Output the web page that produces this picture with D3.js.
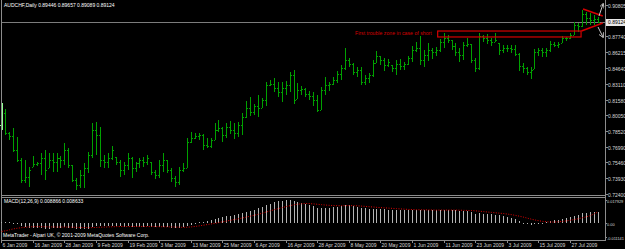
<!DOCTYPE html>
<html>
<head>
<meta charset="utf-8">
<script src="https://cdnjs.cloudflare.com/ajax/libs/d3/7.8.5/d3.min.js"></script>
<style>
  body { margin: 0; background: #000; }
  svg { display: block; }
  text { font-family: "Liberation Sans", Arial, sans-serif; }
</style>
</head>
<body>
<svg width="625" height="249"></svg>
<script>
// AUDCHF daily bars, 6 Jan 2009 .. 5 Aug 2009
var opens = [
  0.7911,0.8028,0.7834,0.7804,0.7668,0.7571,0.7376,0.7405,0.7503,0.7532,
  0.7541,0.7590,0.7493,0.7571,0.7551,0.7590,0.7571,0.7668,0.7522,0.7376,
  0.7327,0.7425,0.7493,0.7619,0.7863,0.7814,0.7571,0.7551,0.7590,0.7600,
  0.7551,0.7473,0.7522,0.7590,0.7493,0.7541,0.7571,0.7551,0.7551,0.7454,
  0.7425,0.7522,0.7571,0.7473,0.7395,0.7356,0.7473,0.7493,0.7746,0.7785,
  0.7804,0.7814,0.7717,0.7707,0.7765,0.7863,0.7882,0.7814,0.7892,0.7863,
  0.7834,0.7911,0.7989,0.8077,0.8038,0.8096,0.8077,0.8155,0.8301,0.8311,
  0.8272,0.8233,0.8272,0.8301,0.8399,0.8165,0.8252,0.8262,0.8213,0.8194,
  0.8155,0.8058,0.8252,0.8301,0.8311,0.8350,0.8408,0.8467,0.8545,0.8506,
  0.8428,0.8447,0.8330,0.8369,0.8399,0.8515,0.8584,0.8545,0.8496,0.8496,
  0.8467,0.8506,0.8486,0.8506,0.8564,0.8642,0.8662,0.8545,0.8593,0.8642,
  0.8623,0.8642,0.8720,0.8759,0.8740,0.8681,0.8623,0.8593,0.8691,0.8701,
  0.8545,0.8467,0.8778,0.8759,0.8740,0.8720,0.8710,0.8642,0.8662,0.8662,
  0.8652,0.8603,0.8486,0.8467,0.8428,0.8457,0.8623,0.8642,0.8623,0.8642,
  0.8701,0.8691,0.8710,0.8759,0.8759,0.8788,0.8886,0.8876,0.8993,0.8954,
  0.8934,0.89446
];
var highs = [
  0.8126,0.8067,0.7843,0.7882,0.7795,0.7590,0.7571,0.7503,0.7610,0.7551,
  0.7639,0.7668,0.7639,0.7639,0.7639,0.7610,0.7736,0.7688,0.7522,0.7395,
  0.7473,0.7541,0.7649,0.7931,0.7941,0.7892,0.7619,0.7639,0.7707,0.7600,
  0.7571,0.7551,0.7639,0.7600,0.7551,0.7590,0.7600,0.7619,0.7551,0.7473,
  0.7571,0.7639,0.7571,0.7493,0.7415,0.7503,0.7541,0.7785,0.7843,0.7834,
  0.7834,0.7824,0.7785,0.7785,0.7931,0.7960,0.7892,0.7931,0.7950,0.7931,
  0.7941,0.8028,0.8145,0.8184,0.8116,0.8204,0.8174,0.8330,0.8350,0.8369,
  0.8330,0.8330,0.8340,0.8428,0.8447,0.8321,0.8291,0.8272,0.8243,0.8233,
  0.8204,0.8282,0.8379,0.8330,0.8379,0.8437,0.8496,0.8662,0.8564,0.8515,
  0.8476,0.8476,0.8399,0.8418,0.8545,0.8632,0.8584,0.8564,0.8554,0.8496,
  0.8545,0.8554,0.8525,0.8584,0.8681,0.8720,0.8778,0.8642,0.8710,0.8662,
  0.8671,0.8749,0.8808,0.8788,0.8740,0.8710,0.8662,0.8720,0.8759,0.8701,
  0.8564,0.8808,0.8788,0.8798,0.8759,0.8808,0.8710,0.8691,0.8691,0.8691,
  0.8691,0.8613,0.8515,0.8476,0.8476,0.8652,0.8662,0.8662,0.8662,0.8730,
  0.8720,0.8720,0.8778,0.8769,0.8808,0.8915,0.8905,0.9032,0.9012,0.9003,
  0.8983,0.89657
];
var lows = [
  0.7863,0.7814,0.7765,0.7649,0.7551,0.7347,0.7347,0.7308,0.7503,0.7512,
  0.7425,0.7376,0.7493,0.7454,0.7454,0.7493,0.7522,0.7493,0.7356,0.7278,
  0.7298,0.7298,0.7444,0.7590,0.7619,0.7503,0.7493,0.7493,0.7571,0.7522,
  0.7405,0.7425,0.7473,0.7395,0.7454,0.7493,0.7503,0.7522,0.7425,0.7386,
  0.7395,0.7454,0.7444,0.7356,0.7308,0.7327,0.7454,0.7493,0.7736,0.7775,
  0.7765,0.7668,0.7688,0.7688,0.7765,0.7843,0.7746,0.7785,0.7824,0.7775,
  0.7795,0.7814,0.7980,0.7999,0.8009,0.7989,0.8077,0.8096,0.8291,0.8233,
  0.8184,0.8135,0.8204,0.8233,0.8116,0.8165,0.8204,0.8184,0.8155,0.8096,
  0.8038,0.8058,0.8204,0.8243,0.8301,0.8321,0.8350,0.8447,0.8476,0.8399,
  0.8379,0.8301,0.8301,0.8321,0.8379,0.8515,0.8496,0.8437,0.8476,0.8428,
  0.8399,0.8447,0.8447,0.8496,0.8525,0.8623,0.8496,0.8476,0.8535,0.8554,
  0.8584,0.8623,0.8662,0.8710,0.8642,0.8584,0.8525,0.8545,0.8671,0.8515,
  0.8428,0.8447,0.8720,0.8701,0.8681,0.8720,0.8593,0.8613,0.8623,0.8613,
  0.8584,0.8437,0.8418,0.8399,0.8360,0.8457,0.8584,0.8574,0.8574,0.8623,
  0.8671,0.8662,0.8710,0.8730,0.8749,0.8788,0.8817,0.8866,0.8886,0.8886,
  0.8886,0.89089
];
var closes = [
  0.8028,0.7834,0.7804,0.7668,0.7571,0.7376,0.7405,0.7473,0.7532,0.7541,
  0.7590,0.7473,0.7571,0.7551,0.7590,0.7571,0.7668,0.7522,0.7376,0.7327,
  0.7425,0.7493,0.7619,0.7863,0.7814,0.7571,0.7551,0.7590,0.7668,0.7551,
  0.7473,0.7522,0.7590,0.7493,0.7541,0.7571,0.7551,0.7590,0.7454,0.7425,
  0.7522,0.7571,0.7473,0.7395,0.7356,0.7473,0.7493,0.7746,0.7785,0.7804,
  0.7814,0.7717,0.7707,0.7765,0.7863,0.7882,0.7814,0.7892,0.7863,0.7834,
  0.7911,0.7989,0.8077,0.8038,0.8096,0.8077,0.8155,0.8301,0.8311,0.8272,
  0.8233,0.8272,0.8301,0.8399,0.8155,0.8252,0.8262,0.8213,0.8194,0.8155,
  0.8058,0.8252,0.8301,0.8311,0.8350,0.8408,0.8467,0.8545,0.8506,0.8428,
  0.8447,0.8330,0.8369,0.8399,0.8515,0.8584,0.8545,0.8496,0.8525,0.8467,
  0.8506,0.8486,0.8506,0.8564,0.8642,0.8662,0.8545,0.8593,0.8642,0.8623,
  0.8642,0.8720,0.8759,0.8740,0.8681,0.8623,0.8593,0.8691,0.8701,0.8545,
  0.8467,0.8778,0.8759,0.8740,0.8720,0.8740,0.8642,0.8662,0.8662,0.8652,
  0.8603,0.8486,0.8467,0.8428,0.8447,0.8623,0.8642,0.8623,0.8642,0.8701,
  0.8691,0.8701,0.8759,0.8759,0.8788,0.8886,0.8876,0.8993,0.8954,0.8934,
  0.8944,0.89124
];

// MACD(12,26,9): main line (drawn as histogram) and signal line
var macdMain = [
  0.0012,0.0010,0.0006,0.0002,-0.0008,-0.0020,-0.0030,-0.0038,-0.0040,-0.0042,
  -0.0042,-0.0044,-0.0043,-0.0042,-0.0040,-0.0038,-0.0034,-0.0035,-0.0040,-0.0046,
  -0.0048,-0.0047,-0.0043,-0.0032,-0.0025,-0.0024,-0.0024,-0.0024,-0.0022,-0.0022,
  -0.0025,-0.0027,-0.0026,-0.0028,-0.0028,-0.0028,-0.0027,-0.0026,-0.0028,-0.0031,
  -0.0031,-0.0030,-0.0031,-0.0035,-0.0038,-0.0037,-0.0034,-0.0024,-0.0012,-0.0003,
  0.0005,0.0012,0.0018,0.0024,0.0032,0.0040,0.0046,0.0052,0.0058,0.0063,
  0.0068,0.0075,0.0085,0.0095,0.0105,0.0115,0.0125,0.0138,0.0150,0.0160,
  0.0168,0.0174,0.0178,0.0180,0.0172,0.0165,0.0158,0.0150,0.0140,0.0130,
  0.0118,0.0115,0.0117,0.0118,0.0122,0.0128,0.0134,0.0140,0.0138,0.0133,
  0.0128,0.0120,0.0114,0.0110,0.0110,0.0112,0.0110,0.0106,0.0104,0.0101,
  0.0100,0.0099,0.0098,0.0099,0.0102,0.0105,0.0102,0.0100,0.0101,0.0100,
  0.0099,0.0101,0.0104,0.0105,0.0102,0.0098,0.0094,0.0093,0.0092,0.0085,
  0.0072,0.0075,0.0073,0.0071,0.0068,0.0066,0.0060,0.0052,0.0045,0.0038,
  0.0030,0.0015,0.0003,-0.0007,-0.0014,-0.0008,-0.0002,0.0003,0.0008,0.0014,
  0.0020,0.0026,0.0033,0.0040,0.0047,0.0057,0.0064,0.0075,0.0082,0.0086,
  0.0088,0.008866
];
var macdSignal = [
  -0.0065,-0.0060,-0.0052,-0.0045,-0.0040,-0.0036,-0.0032,-0.0030,-0.0028,-0.0028,
  -0.0028,-0.0029,-0.0030,-0.0030,-0.0031,-0.0031,-0.0031,-0.0031,-0.0032,-0.0033,
  -0.0034,-0.0035,-0.0036,-0.0035,-0.0034,-0.0032,-0.0031,-0.0030,-0.0029,-0.0028,
  -0.0027,-0.0027,-0.0027,-0.0027,-0.0027,-0.0027,-0.0027,-0.0027,-0.0027,-0.0028,
  -0.0028,-0.0029,-0.0029,-0.0030,-0.0031,-0.0032,-0.0033,-0.0032,-0.0030,-0.0026,
  -0.0022,-0.0017,-0.0012,-0.0007,-0.0002,0.0004,0.0010,0.0016,0.0022,0.0028,
  0.0034,0.0040,0.0047,0.0054,0.0061,0.0069,0.0077,0.0086,0.0095,0.0104,
  0.0112,0.0120,0.0128,0.0135,0.0142,0.0147,0.0150,0.0152,0.0151,0.0149,
  0.0146,0.0143,0.0140,0.0138,0.0136,0.0135,0.0135,0.0135,0.0136,0.0135,
  0.0134,0.0132,0.0130,0.0127,0.0125,0.0122,0.0120,0.0118,0.0116,0.0114,
  0.0112,0.0110,0.0108,0.0106,0.0105,0.0104,0.0103,0.0103,0.0102,0.0102,
  0.0101,0.0101,0.0101,0.0101,0.0101,0.0101,0.0100,0.0099,0.0098,0.0097,
  0.0095,0.0092,0.0089,0.0086,0.0083,0.0080,0.0077,0.0074,0.0070,0.0066,
  0.0060,0.0054,0.0047,0.0039,0.0031,0.0024,0.0018,0.0013,0.0010,0.0008,
  0.0008,0.0010,0.0013,0.0017,0.0022,0.0028,0.0034,0.0041,0.0049,0.0057,
  0.0072,0.008633
];

var dateLabels = ["6 Jan 2009","16 Jan 2009","28 Jan 2009","9 Feb 2009","19 Feb 2009",
  "3 Mar 2009","13 Mar 2009","25 Mar 2009","6 Apr 2009","16 Apr 2009","28 Apr 2009",
  "8 May 2009","20 May 2009","1 Jun 2009","11 Jun 2009","23 Jun 2009","3 Jul 2009",
  "15 Jul 2009","27 Jul 2009"];
var priceTicks = [0.90805,0.87740,0.86215,0.84640,0.83110,0.81580,0.80050,
  0.78520,0.76990,0.75460,0.73930,0.72400];
var macdTicks = [0.017929, 0.00, -0.011141];
var lastPrice = 0.89124;

var svg = d3.select("svg");
var W = 625, H = 249;
var plotRight = 605;

svg.append("rect").attr("width", W).attr("height", H).attr("fill", "#000");

var x = d3.scaleLinear().domain([0, closes.length - 1]).range([1.2, 1.2 + 3.95 * (closes.length - 1)]);
var y = d3.scaleLinear().domain([0.72400, 0.90805]).range([193.9, 5]);
var ym = d3.scaleLinear().domain([-0.011141, 0.017929]).range([237.4, 200]);

function px(i) { return Math.round(x(i)); }

// frame
var frame = svg.append("g").attr("stroke", "#8c8c8c").attr("stroke-width", 1);
frame.append("line").attr("x1", 1.5).attr("x2", 1.5).attr("y1", 0).attr("y2", 240);
frame.append("line").attr("x1", plotRight + 0.5).attr("x2", plotRight + 0.5).attr("y1", 0).attr("y2", 241);
frame.append("line").attr("x1", 1).attr("x2", plotRight + 1).attr("y1", 195.5).attr("y2", 195.5);
frame.append("line").attr("x1", 1).attr("x2", plotRight + 1).attr("y1", 197.5).attr("y2", 197.5);
frame.append("line").attr("x1", 1).attr("x2", plotRight + 1).attr("y1", 240.5).attr("y2", 240.5);

// last price line
svg.append("line").attr("x1", 2).attr("x2", plotRight).attr("y1", Math.round(y(lastPrice)) + 0.5)
  .attr("y2", Math.round(y(lastPrice)) + 0.5).attr("stroke", "#7c7c7c");

// OHLC bars
var bars = svg.append("g").selectAll("g").data(closes).enter().append("g")
  .attr("fill", function(d, i) { return i == 0 ? "#90ff90" : "#00a000"; });
bars.append("rect")
  .attr("x", function(d, i) { return px(i) + (i == 0 ? 1 : 0); })
  .attr("y", function(d, i) { return Math.round(y(highs[i])); })
  .attr("width", 1)
  .attr("height", function(d, i) { return Math.max(1, Math.round(y(lows[i])) - Math.round(y(highs[i]))); });
bars.append("rect")
  .attr("x", function(d, i) { return px(i) - 1; })
  .attr("y", function(d, i) { return Math.round(y(opens[i])); })
  .attr("width", 1).attr("height", 1);
bars.append("rect")
  .attr("x", function(d, i) { return px(i) + 1; })
  .attr("y", function(d, i) { return Math.round(y(d)); })
  .attr("width", 1).attr("height", 1);

// MACD histogram
var z = Math.round(ym(0));
svg.append("g").selectAll("rect").data(macdMain).enter().append("rect")
  .attr("x", function(d, i) { return px(i); })
  .attr("width", 1)
  .attr("y", function(d) { return Math.min(z, Math.round(ym(d))); })
  .attr("height", function(d) { return Math.max(1, Math.abs(Math.round(ym(d)) - z)); })
  .attr("fill", "#b4b4b4");

// signal line
svg.append("path").datum(macdSignal)
  .attr("d", d3.line().x(function(d, i) { return x(i) + 0.5; }).y(function(d) { return ym(d); }))
  .attr("fill", "none").attr("stroke", "#e00000").attr("stroke-width", 1)
  .attr("stroke-dasharray", "1,1.5");

// price axis
var pa = svg.append("g").attr("font-size", 5).attr("fill", "#d8d8d8");
priceTicks.forEach(function(v) {
  var yy = Math.round(y(v)) + 0.5;
  pa.append("line").attr("x1", plotRight).attr("x2", plotRight + 3).attr("y1", yy).attr("y2", yy).attr("stroke", "#8c8c8c");
  pa.append("text").attr("x", 608).attr("y", yy + 2).text(v.toFixed(5));
});
macdTicks.forEach(function(v) {
  var yy = Math.round(ym(v)) + 0.5;
  pa.append("line").attr("x1", plotRight).attr("x2", plotRight + 2).attr("y1", yy).attr("y2", yy).attr("stroke", "#8c8c8c");
  pa.append("text").attr("x", 607).attr("y", yy + 2).attr("font-size", 3.9)
    .text(v == 0 ? "0.00" : v.toFixed(6));
});
var ly = Math.round(y(lastPrice));
svg.append("rect").attr("x", 606).attr("y", ly - 3).attr("width", 19).attr("height", 7).attr("fill", "#e8e8e8");
svg.append("text").attr("x", 608).attr("y", ly + 2).attr("font-size", 5).attr("fill", "#000").text(lastPrice.toFixed(5));

// date axis
var da = svg.append("g").attr("font-size", 5).attr("fill", "#d8d8d8");
dateLabels.forEach(function(t, k) {
  var xx = px(k * 8) + 0.5;
  da.append("line").attr("x1", xx).attr("x2", xx).attr("y1", 240).attr("y2", 243).attr("stroke", "#8c8c8c");
  da.append("text").attr("x", xx + 1).attr("y", 247).text(t);
});

// captions
svg.append("text").attr("x", 4).attr("y", 7).attr("font-size", 5).attr("fill", "#fff")
  .text("AUDCHF,Daily  0.89446 0.89657 0.89089 0.89124");
svg.append("text").attr("x", 4).attr("y", 203).attr("font-size", 5).attr("fill", "#fff")
  .text("MACD(12,26,9) 0.008866 0.008633");
svg.append("text").attr("x", 3).attr("y", 237).attr("font-size", 5).attr("fill", "#fff")
  .text("MetaTrader - Alpari UK, \u00a9 2001-2009 MetaQuotes Software Corp.");

// annotations
var red = "#d40000";
svg.append("rect").attr("x", x(110.5)).attr("y", y(0.8827)).attr("width", x(146.8) - x(110.5))
  .attr("height", y(0.8769) - y(0.8827)).attr("fill", "none").attr("stroke", red).attr("stroke-width", 1.2);
svg.append("text").attr("x", 355).attr("y", 35).attr("font-size", 5.2).attr("fill", red)
  .text("First trouble zone in case of short");
svg.append("line").attr("x1", x(147.3)).attr("y1", y(0.9042)).attr("x2", x(152.3)).attr("y2", y(0.8973))
  .attr("stroke", red).attr("stroke-width", 1.5);
svg.append("line").attr("x1", x(146.9)).attr("y1", y(0.8827)).attr("x2", x(152.3)).attr("y2", y(0.8905))
  .attr("stroke", red).attr("stroke-width", 1.5);

svg.append("defs").append("marker").attr("id", "ah").attr("viewBox", "0 0 6 6").attr("refX", 5).attr("refY", 3)
  .attr("markerWidth", 5).attr("markerHeight", 5).attr("orient", "auto")
  .append("path").attr("d", "M0,0 L6,3 L0,6").attr("fill", "none").attr("stroke", "#c8c8c8");
svg.append("line").attr("x1", 599).attr("y1", 16).attr("x2", 603).attr("y2", 4)
  .attr("stroke", "#c8c8c8").attr("marker-end", "url(#ah)");
svg.append("line").attr("x1", 598).attr("y1", 27).attr("x2", 603).attr("y2", 37)
  .attr("stroke", "#c8c8c8").attr("marker-end", "url(#ah)");
</script>
</body>
</html>
